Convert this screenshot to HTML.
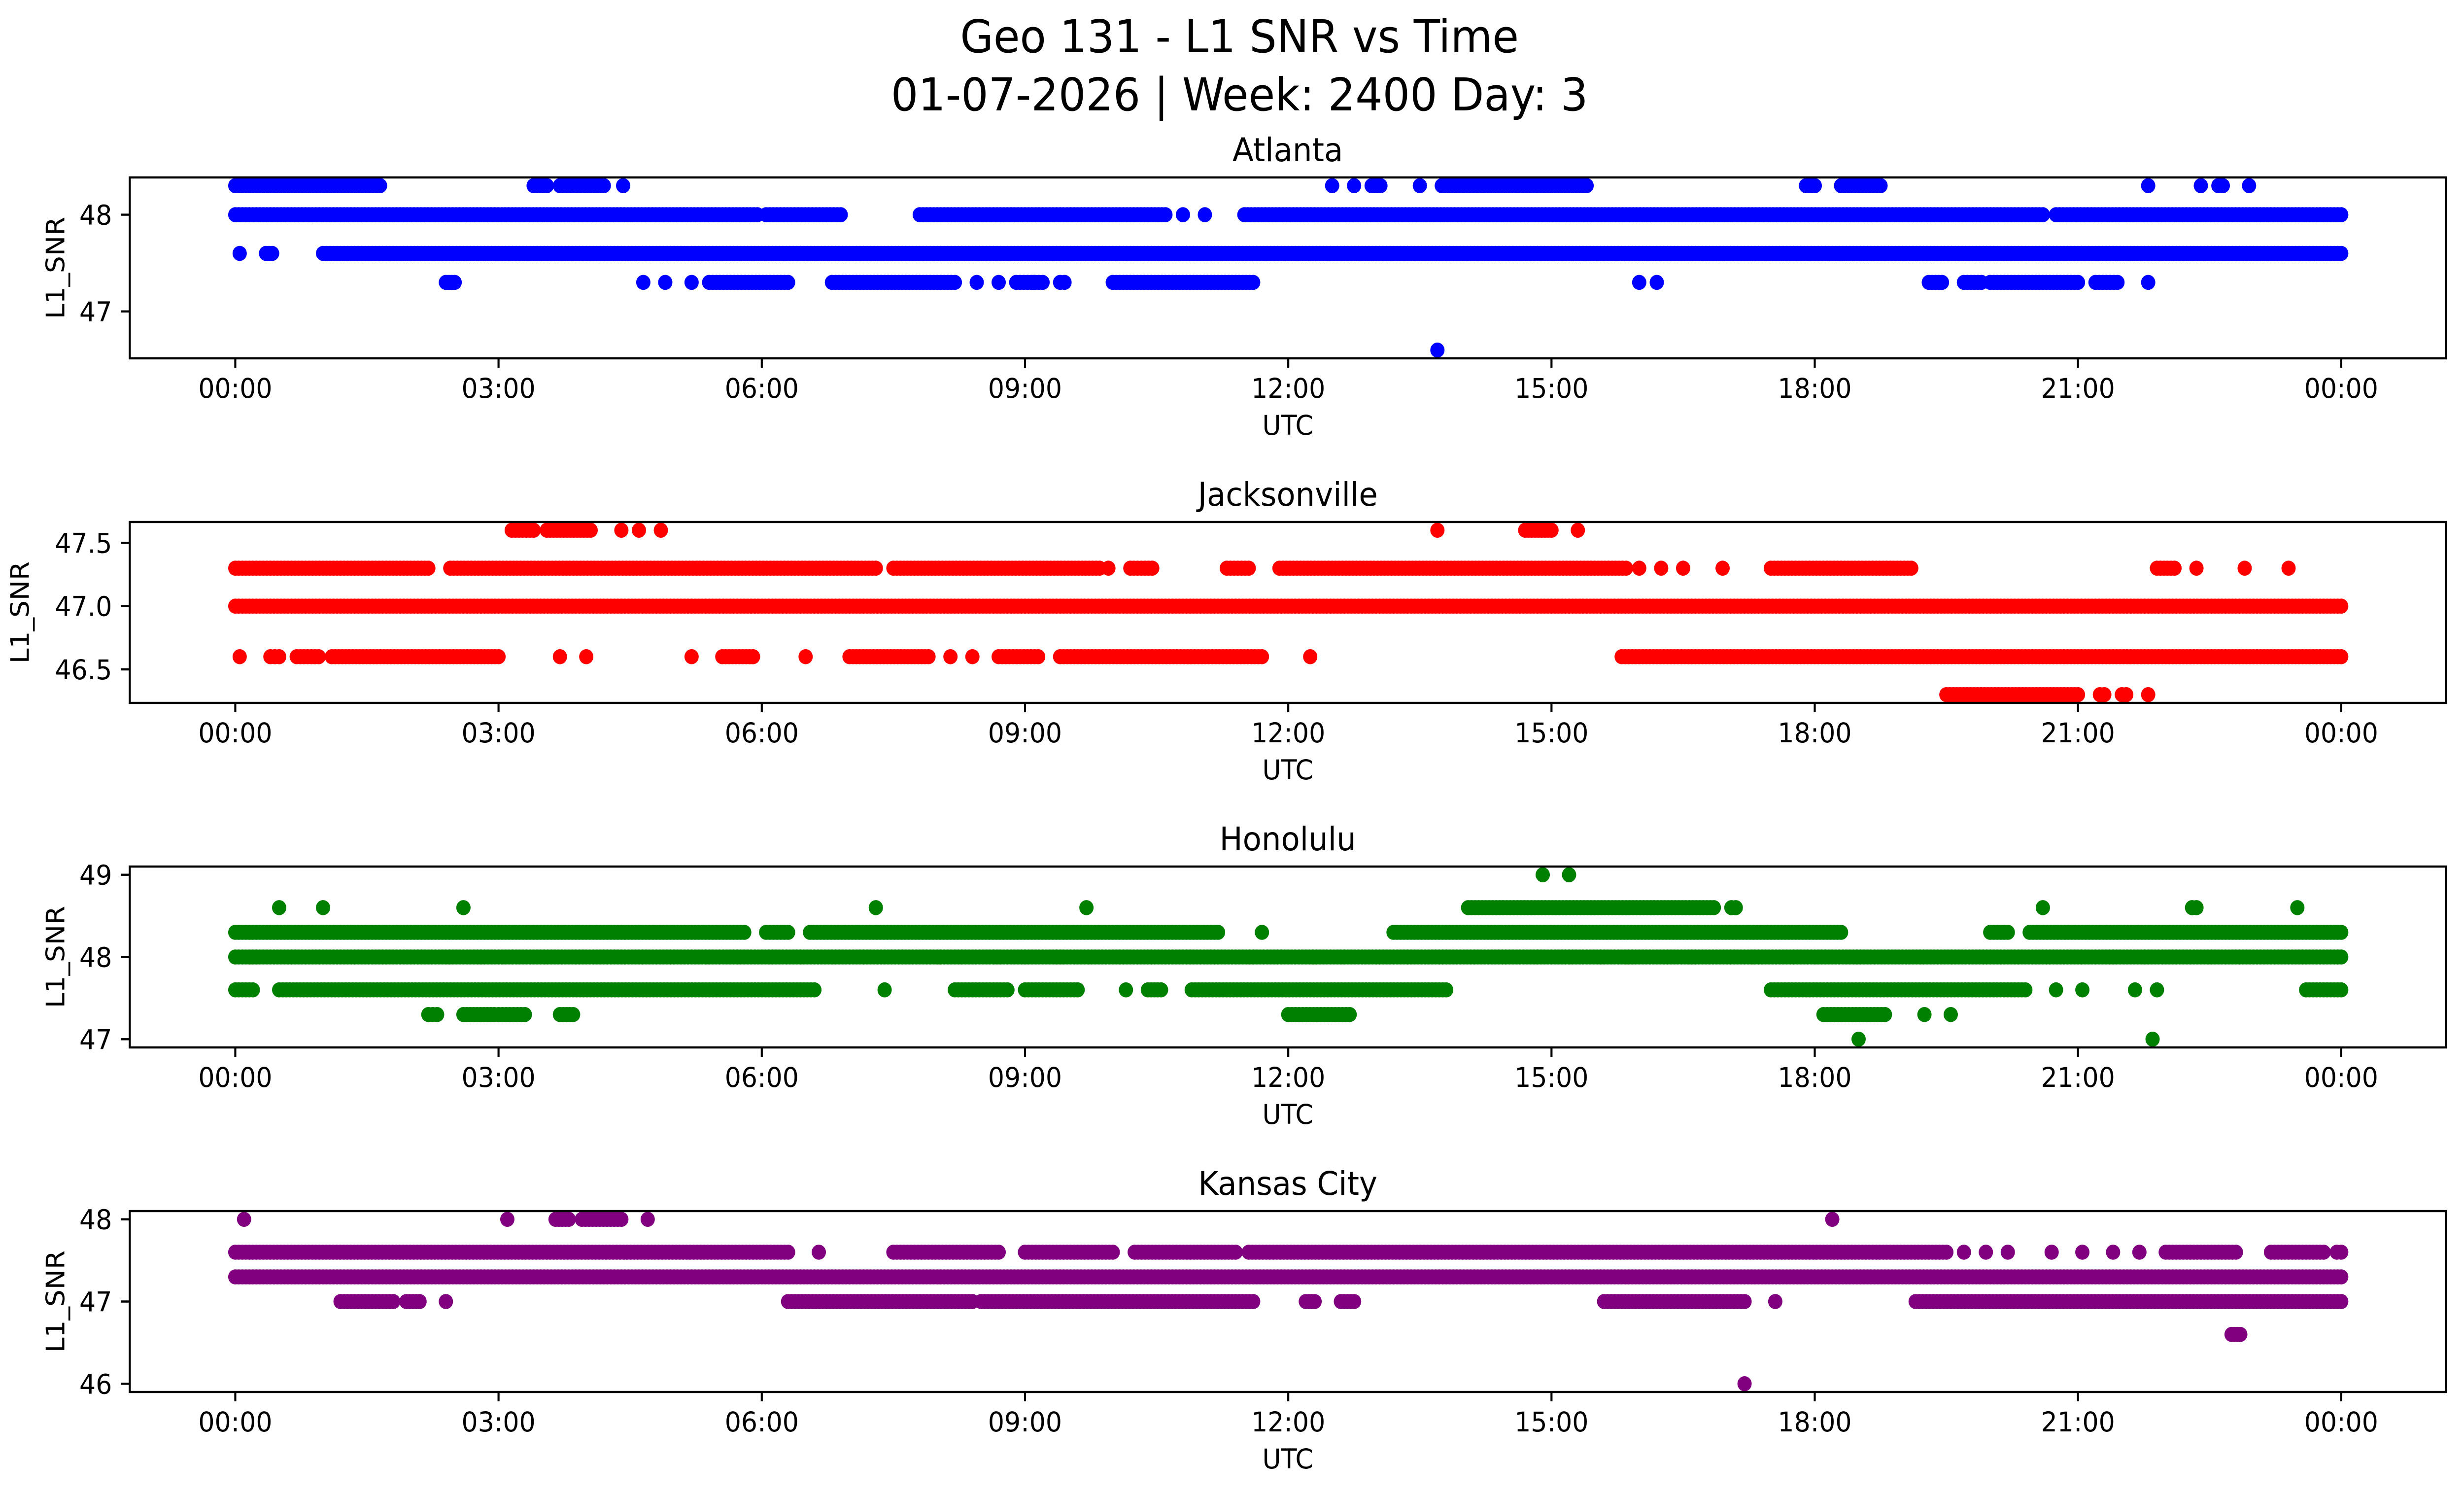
<!DOCTYPE html>
<html><head><meta charset="utf-8"><style>
html,body{margin:0;padding:0;background:#fff;width:100%;height:100%;overflow:hidden;}
svg{display:block;width:100vw;height:100vh;font-family:"DejaVu Sans","Liberation Sans",sans-serif;}
</style></head><body>
<svg id="chart" viewBox="0 0 5278 3033" preserveAspectRatio="none" xmlns="http://www.w3.org/2000/svg">
<rect width="5278" height="3033" fill="#fff"/>
<text x="2655" y="106" font-size="92" text-anchor="middle">Geo 131 - L1 SNR vs Time</text>
<text x="2655" y="224" font-size="92" text-anchor="middle">01-07-2026 | Week: 2400 Day: 3</text>
<g id="plots"></g>
</svg>
<script>
const stations = ["Atlanta","Jacksonville","Honolulu","Kansas City"];
const colors = ["#0000ff","#ff0000","#008000","#800080"];
const yMin = [46.515, 46.235, 46.9, 45.9];
const yMax = [48.385, 47.665, 49.1, 48.1];
const yTicks = [[47,48],[46.5,47.0,47.5],[47,48,49],[46,47,48]];
const yTickLabels = [["47","48"],["46.5","47.0","47.5"],["47","48","49"],["46","47","48"]];
const xTickHours = [0,3,6,9,12,15,18,21,24];
const xTickLabels = ["00:00","03:00","06:00","09:00","12:00","15:00","18:00","21:00","00:00"];
// runs per SNR level: [startHour, endHour] (single points have start==end)
const atlanta = {
 48.3:[[0,1.65],[3.4,3.55],[3.7,3.85],[3.9,4.2],[4.42,4.42],[12.5,12.5],[12.75,12.75],[12.95,13.05],[13.5,13.5],[13.75,15.4],[17.9,18.0],[18.3,18.75],[21.8,21.8],[22.4,22.4],[22.6,22.65],[22.95,22.95]],
 48.0:[[0,5.95],[6.05,6.9],[7.8,10.6],[10.8,10.8],[11.05,11.05],[11.5,20.6],[20.75,24]],
 47.6:[[0.05,0.05],[0.35,0.42],[1.0,24]],
 47.3:[[2.4,2.5],[4.65,4.65],[4.9,4.9],[5.2,5.2],[5.4,6.3],[6.8,8.2],[8.45,8.45],[8.7,8.7],[8.9,9.2],[9.1,9.1],[9.4,9.45],[10.0,11.6],[16.0,16.0],[16.2,16.2],[19.3,19.45],[19.7,19.9],[20.0,21.0],[21.2,21.45],[21.8,21.8]],
 46.6:[[13.7,13.7]]
};
const jacksonville = {
 47.6:[[3.15,3.4],[3.55,4.05],[4.4,4.4],[4.6,4.6],[4.85,4.85],[13.7,13.7],[14.7,15.0],[15.3,15.3]],
 47.3:[[0,2.2],[2.45,7.3],[7.5,9.85],[9.95,9.95],[10.2,10.45],[11.3,11.55],[11.9,15.85],[16.0,16.0],[16.25,16.25],[16.5,16.5],[16.95,16.95],[17.5,19.1],[21.9,22.1],[22.35,22.35],[22.9,22.9],[23.4,23.4]],
 47.0:[[0,24]],
 46.6:[[0.05,0.05],[0.4,0.5],[0.7,0.95],[1.1,3.0],[3.7,3.7],[4.0,4.0],[5.2,5.2],[5.55,5.9],[6.5,6.5],[7.0,7.9],[8.15,8.15],[8.4,8.4],[8.7,9.15],[9.4,11.7],[12.25,12.25],[15.8,24]],
 46.3:[[19.5,21.0],[21.25,21.3],[21.5,21.55],[21.8,21.8]]
};
const honolulu = {
 49.0:[[14.9,14.9],[15.2,15.2]],
 48.6:[[0.5,0.5],[1.0,1.0],[2.6,2.6],[7.3,7.3],[9.7,9.7],[14.05,16.85],[17.05,17.1],[20.6,20.6],[22.3,22.35],[23.5,23.5]],
 48.3:[[0,5.8],[6.05,6.3],[6.55,11.2],[11.7,11.7],[13.2,18.3],[20.0,20.2],[20.45,24]],
 48.0:[[0,24]],
 47.6:[[0,0.2],[0.5,6.6],[7.4,7.4],[8.2,8.8],[9.0,9.6],[10.15,10.15],[10.4,10.55],[10.9,13.8],[17.5,20.4],[20.75,20.75],[21.05,21.05],[21.65,21.65],[21.9,21.9],[23.6,24]],
 47.3:[[2.2,2.3],[2.6,2.95],[3.0,3.3],[3.7,3.85],[12.0,12.7],[18.1,18.8],[19.25,19.25],[19.55,19.55]],
 47.0:[[18.5,18.5],[21.85,21.85]]
};
const kansasCity = {
 48.0:[[0.1,0.1],[3.1,3.1],[3.65,3.8],[3.95,4.4],[4.7,4.7],[18.2,18.2]],
 47.6:[[0,6.3],[6.65,6.65],[7.5,8.7],[9.0,10.0],[10.25,11.4],[11.55,19.5],[19.7,19.7],[19.95,19.95],[20.2,20.2],[20.7,20.7],[21.05,21.05],[21.4,21.4],[21.7,21.7],[22.0,22.8],[23.2,23.8],[23.95,24]],
 47.3:[[0,24]],
 47.0:[[1.2,1.8],[1.95,2.1],[2.4,2.4],[6.3,8.4],[8.5,11.6],[12.2,12.3],[12.6,12.75],[15.6,17.2],[17.55,17.55],[19.15,24]],
 46.6:[[22.75,22.85]],
 46.0:[[17.2,17.2]]
};
const seriesData = [atlanta, jacksonville, honolulu, kansasCity];

const NS = "http://www.w3.org/2000/svg";
const L = 278, R = 5239, T0 = 360, H = 367, PITCH = 699;
const X0 = 504, X24 = 5015;
const plots = document.getElementById('plots');
function mk(tag, attrs, parent){ const e=document.createElementNS(NS,tag); for(const k in attrs) e.setAttribute(k,attrs[k]); parent.appendChild(e); return e; }
function xs(h){ return X0 + (X24 - X0) * h / 24; }

stations.forEach((name, i) => {
  const top = T0 + i * PITCH, bot = top + H;
  const ys = v => bot - (v - yMin[i]) / (yMax[i] - yMin[i]) * H;
  const g = mk('g', {}, plots);
  
  
  const dots = mk('g', {fill: colors[i]}, g);
  
  
  const d = seriesData[i];
  Object.keys(d).forEach(level => {
    const y = ys(parseFloat(level));
    d[level].forEach(([a, b]) => {
      const n = Math.max(0, Math.round((b - a) / 0.04));
      for (let k = 0; k <= n; k++) {
        const h = n ? a + (b - a) * k / n : a;
        mk('circle', {cx: xs(h).toFixed(1), cy: y.toFixed(1), r: 15.3}, dots);
      }
    });
  });
  const frame = mk('rect', {x: L, y: top, width: R - L, height: H, fill: 'none', stroke: '#000', 'stroke-width': 4.4}, g);
  
  
  xTickHours.forEach((h, k) => {
    const x = xs(h);
    mk('line', {x1: x, x2: x, y1: bot, y2: bot + 19, stroke: '#000', 'stroke-width': 4.4}, g);
    const t = mk('text', {x: x, y: bot + 80, 'font-size': 55, 'text-anchor': 'middle'}, g);
    t.textContent = xTickLabels[k];
    
    
  });
  yTicks[i].forEach((v, k) => {
    const y = ys(v);
    mk('line', {x1: L - 19, x2: L, y1: y, y2: y, stroke: '#000', 'stroke-width': 4.4}, g);
    const t = mk('text', {x: L - 38, y: y + 20, 'font-size': 55, 'text-anchor': 'end'}, g);
    t.textContent = yTickLabels[i][k];
    
    
  });
  const tt = mk('text', {x: (L + R) / 2, y: top - 33, 'font-size': 66, 'text-anchor': 'middle'}, g);
  tt.textContent = name;
  
  
  const xl = mk('text', {x: (L + R) / 2, y: bot + 155, 'font-size': 55, 'text-anchor': 'middle'}, g);
  xl.textContent = 'UTC';
  
  
  const cy = (top + bot) / 2;
  const lx = i === 1 ? 62 : 138;
  const yl = mk('text', {x: lx, y: cy, 'font-size': 55, 'text-anchor': 'middle', transform: `rotate(-90 ${lx} ${cy})`}, g);
  yl.textContent = 'L1_SNR';
  
  
});
</script>
</body></html>
